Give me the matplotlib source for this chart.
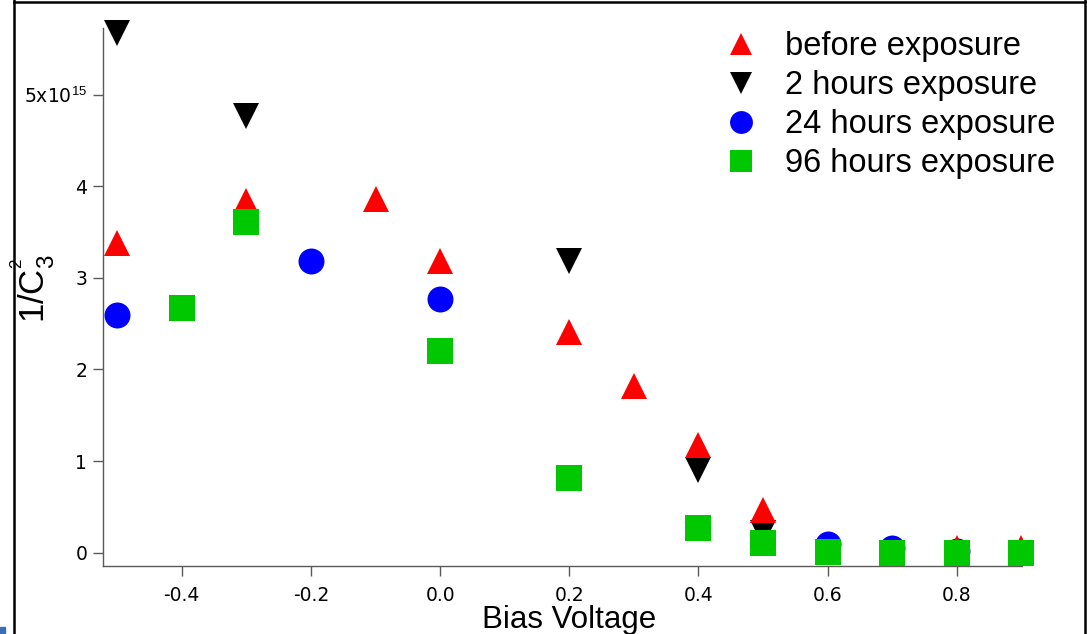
"""Scatter plot of 1/C^2 against bias voltage for several exposure times."""

import matplotlib

matplotlib.use("Agg")
import matplotlib.pyplot as plt
from matplotlib.lines import Line2D
from matplotlib.patches import Rectangle

plt.rcParams["axes.unicode_minus"] = False
plt.rcParams["mathtext.fontset"] = "custom"
plt.rcParams["mathtext.rm"] = "Liberation Sans"
plt.rcParams["mathtext.it"] = "Liberation Sans:italic"

# 1/C^2 values in units of 1e15
bias_before = [-0.5, -0.3, -0.1, 0.0, 0.2, 0.3, 0.4, 0.5, 0.8, 0.9]
inv_c2_before = [3.38, 3.84, 3.86, 3.19, 2.41, 1.82, 1.17, 0.47, 0.05, 0.05]

bias_2h = [-0.5, -0.3, 0.2, 0.4, 0.5, 0.7]
inv_c2_2h = [5.68, 4.77, 3.19, 0.90, 0.21, -0.02]

bias_24h = [-0.5, -0.2, 0.0, 0.6, 0.7, 0.8]
inv_c2_24h = [2.59, 3.19, 2.77, 0.09, 0.05, 0.02]

bias_96h = [-0.4, -0.3, 0.0, 0.2, 0.4, 0.5, 0.6, 0.7, 0.8, 0.9]
inv_c2_96h = [2.67, 3.61, 2.20, 0.82, 0.27, 0.10, 0.01, 0.0, 0.0, 0.0]

labels = ["before exposure", "2 hours exposure", "24 hours exposure", "96 hours exposure"]
x_ticks = [-0.4, -0.2, 0.0, 0.2, 0.4, 0.6, 0.8]
y_ticks = [0, 1, 2, 3, 4, 5]
y_tick_labels = ["0", "1", "2", "3", "4", r"5x10$^{15}$"]

fig = plt.figure(figsize=(10.87, 6.34), dpi=100)
ax = fig.add_axes([0.0945, 0.1073, 0.8457, 0.8486])

styles = [
    (bias_before, inv_c2_before, labels[0], "^", "#ff0000", 3),
    (bias_2h, inv_c2_2h, labels[1], "v", "#000000", 2),
    (bias_24h, inv_c2_24h, labels[2], "o", "#0000ff", 2.5),
    (bias_96h, inv_c2_96h, labels[3], "s", "#00c800", 4),
]
handles = []
for x, y, label, marker, color, z in styles:
    (h,) = ax.plot(x, y, linestyle="none", marker=marker, markersize=18.7,
                   markeredgewidth=0, color=color, label=label,
                   clip_on=False, zorder=z)
    handles.append(h)

ax.set_xlim(-0.5223, 0.9008)
ax.set_ylim(-0.146, 5.73)
for side in ("top", "right"):
    ax.spines[side].set_visible(False)
for side in ("left", "bottom"):
    ax.spines[side].set_color("0.35")
    ax.spines[side].set_linewidth(1)

ax.set_xticks(x_ticks)
ax.set_xticklabels([f"{v:.1f}" for v in x_ticks])
ax.set_yticks(y_ticks)
ax.set_yticklabels(y_tick_labels)
ax.tick_params(direction="out", length=7.2, width=1, color="0.35",
               labelsize=13.5)
ax.tick_params(axis="x", pad=7)
ax.tick_params(axis="y", pad=4)

ax.set_xlabel("Bias Voltage", fontsize=22.5, family="Liberation Sans")
ax.xaxis.set_label_coords(0.507, -0.073)
ax.set_ylabel(r"1/C$_3^{{}^2}$", fontsize=25, family="Liberation Sans")
ax.yaxis.set_label_coords(-0.05, 0.515)

fig.legend(handles=handles, loc="upper left",
           bbox_to_anchor=(725 / 1087, 1 - 31 / 634), frameon=False,
           prop={"family": "Liberation Sans", "size": 23.5},
           handlelength=1.0, handletextpad=0.84, labelspacing=0.25,
           borderpad=0, borderaxespad=0, markerscale=0.88)

# black border around the figure
W, H = 1087, 634
for xs, ys in [((14, 14), (0, H)), ((14, 1085), (1.5, 1.5)), ((1085, 1085), (0, H))]:
    fig.add_artist(Line2D([v / W for v in xs], [1 - v / H for v in ys],
                          color="black", linewidth=1.8,
                          transform=fig.transFigure))
fig.add_artist(Rectangle((0, 0), 5 / W, 7 / H, color="#3c6eb4",
                         transform=fig.transFigure))

fig.savefig("out.png", dpi=100)
